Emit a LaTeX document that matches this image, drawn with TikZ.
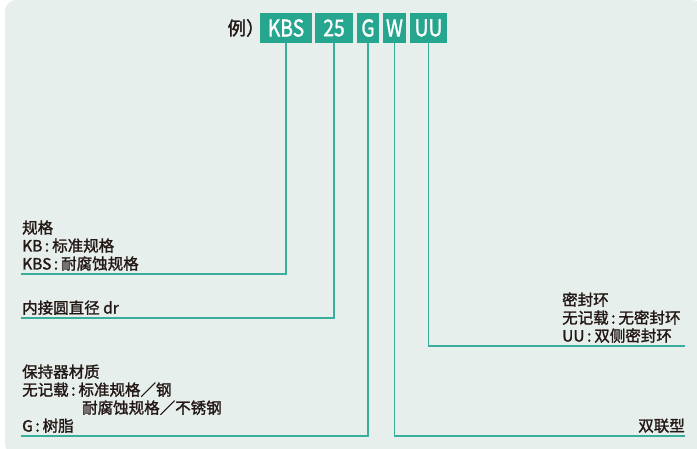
\documentclass[tikz,border=0pt]{standalone}
\usepackage{fontspec}
\setmainfont{Noto Sans CJK SC}
\newfontfamily\heavycjk{Noto Sans CJK SC}[FakeBold=1.6]
\usetikzlibrary{positioning}
\definecolor{panelbg}{HTML}{E7EFEC}
\definecolor{codebox}{HTML}{26A58F}
\definecolor{leadline}{HTML}{3AAE9A}
\definecolor{inkdark}{HTML}{231815}
\tikzset{codepart/.style={fill=codebox,text=white,minimum height=30pt,inner sep=0pt,
    font=\heavycjk\fontsize{23}{23}\selectfont},
  leader/.style={draw=leadline,line width=1.5pt},
  legend/.style={text=inkdark,align=left,inner sep=0pt,font=\heavycjk\fontsize{15.5}{18}\selectfont}}
\newcommand{\narrow}[1]{\scalebox{0.84}[1]{#1}}
\newcommand{\sep}{\hspace{2.5pt}:\hspace{3pt}}

\begin{document}
\begin{tikzpicture}[x=1pt,y=-1pt]
\useasboundingbox (0,0) rectangle (697,449);
%Shape: panel
\fill[white] (0,0) rectangle (697,449);
\fill[panelbg,rounded corners=11pt] (5,0) rectangle (703,455);

% Code boxes
\node[codepart,minimum width=52pt] (kbs) at (286,28) {\narrow{KBS}};
\node[codepart,minimum width=38pt] (size) at (334,28) {\narrow{25}};
\node[codepart,minimum width=22pt] (cage) at (368,28) {\narrow{G}};
\node[codepart,minimum width=23pt] (dbl) at (394.5,28) {\narrow{W}};
\node[codepart,minimum width=37pt] (seal) at (428.5,28) {\narrow{UU}};
% Text Node
\node[left=-5pt of kbs,text=inkdark,inner sep=0pt,font=\heavycjk\fontsize{18.5}{18.5}\selectfont] (example) {例）};

% Leader ends
\coordinate (kbsend) at (21,274);
\coordinate (sizeend) at (21,318);
\coordinate (cageend) at (21,436);
\coordinate (dblend) at (685,436);
\coordinate (sealend) at (685,346);

% Leaders
\draw[leader] (kbs.south) |- (kbsend);
\draw[leader] (size.south) |- (sizeend);
\draw[leader] (cage.south) |- (cageend);
\draw[leader] (dbl.south) |- (dblend);
\draw[leader] (seal.south) |- (sealend);

% Text Node
\node[legend,anchor=south west] (kbstext) at (22,271) {规格\\KB\sep 标准规格\\KBS\sep 耐腐蚀规格};
% Text Node
\node[legend,anchor=south west] (sizetext) at (22,315) {内接圆直径 dr};
% Text Node
\node[legend,anchor=south west] (cagetext) at (22,433) {保持器材质\\无记载\sep 标准规格／钢\\\hspace*{60pt}耐腐蚀规格／不锈钢\\G\sep 树脂};
% Text Node
\node[legend,anchor=south west] (sealtext) at (562,343) {密封环\\无记载\sep 无密封环\\UU\sep 双侧密封环};
% Text Node
\node[legend,anchor=south east] (dbltext) at (685,433) {双联型};

\end{tikzpicture}
\end{document}
